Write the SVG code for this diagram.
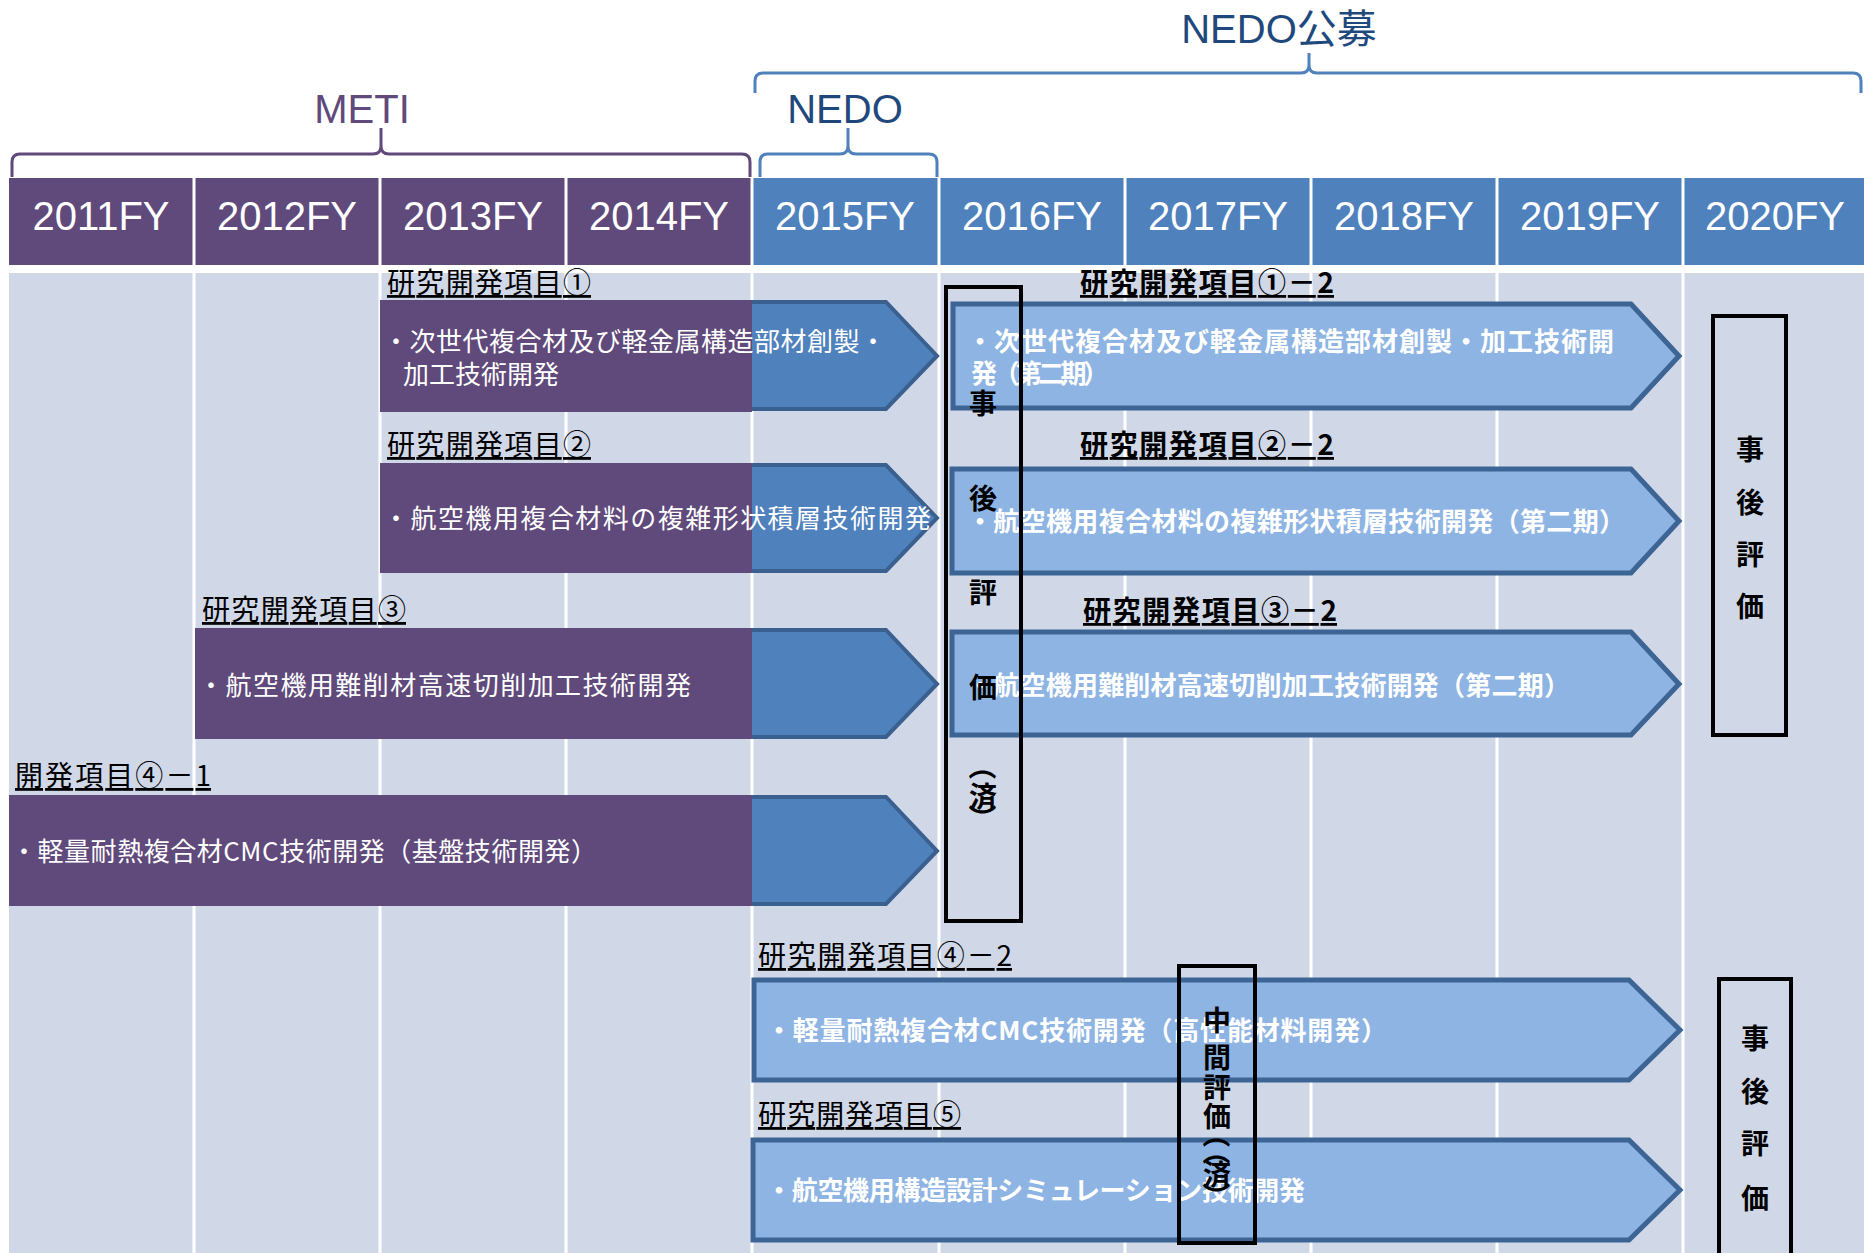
<svg xmlns="http://www.w3.org/2000/svg" width="1864" height="1253" viewBox="0 0 1864 1253">
<style>
.hdr{font-family:"Liberation Sans",sans-serif;font-size:40px;fill:#fff;text-anchor:middle}
.top{font-family:"Liberation Sans","Noto Sans CJK JP",sans-serif;font-size:40px;text-anchor:middle}
.lbl{font-family:"Noto Sans CJK JP",sans-serif;font-size:28px;fill:#000;text-decoration:underline}
.b{font-weight:700}
.bt{font-family:"Noto Sans CJK JP",sans-serif;font-size:26px;fill:#fff}
.ev{font-family:"Noto Sans CJK JP",sans-serif;font-size:28px;font-weight:700;fill:#000;text-anchor:middle;dominant-baseline:central}
.evbox{fill:none;stroke:#000;stroke-width:4}
.arr1{fill:#4F81BD;stroke:#3A6090;stroke-width:4}
.arr2{fill:#8EB4E3;stroke:#3C6494;stroke-width:5}
.meti{fill:#604A7B}
.nedo{fill:#4F81BD}
.sep{stroke:#fff;stroke-width:3}
.brace{fill:none;stroke-width:3;stroke-linejoin:round}
</style>

<g id="background">
<rect x="9" y="273" width="1855" height="980" fill="#D0D8E8"/>
<g class="sep">
<line x1="194" y1="273" x2="194" y2="1253"/><line x1="380" y1="273" x2="380" y2="1253"/>
<line x1="566" y1="273" x2="566" y2="1253"/><line x1="752" y1="273" x2="752" y2="1253"/>
<line x1="939" y1="273" x2="939" y2="1253"/><line x1="1125" y1="273" x2="1125" y2="1253"/>
<line x1="1311" y1="273" x2="1311" y2="1253"/><line x1="1497" y1="273" x2="1497" y2="1253"/>
<line x1="1683" y1="273" x2="1683" y2="1253"/>
</g>
</g>

<g id="header">
<rect class="meti" x="9" y="178" width="743" height="87"/>
<rect class="nedo" x="752" y="178" width="1112" height="87"/>
<g class="sep">
<line x1="194" y1="178" x2="194" y2="265"/><line x1="380" y1="178" x2="380" y2="265"/>
<line x1="566" y1="178" x2="566" y2="265"/><line x1="752" y1="178" x2="752" y2="265"/>
<line x1="939" y1="178" x2="939" y2="265"/><line x1="1125" y1="178" x2="1125" y2="265"/>
<line x1="1311" y1="178" x2="1311" y2="265"/><line x1="1497" y1="178" x2="1497" y2="265"/>
<line x1="1683" y1="178" x2="1683" y2="265"/>
</g>
<text class="hdr" x="101" y="230">2011FY</text>
<text class="hdr" x="287" y="230">2012FY</text>
<text class="hdr" x="473" y="230">2013FY</text>
<text class="hdr" x="659" y="230">2014FY</text>
<text class="hdr" x="845" y="230">2015FY</text>
<text class="hdr" x="1032" y="230">2016FY</text>
<text class="hdr" x="1218" y="230">2017FY</text>
<text class="hdr" x="1404" y="230">2018FY</text>
<text class="hdr" x="1590" y="230">2019FY</text>
<text class="hdr" x="1775" y="230">2020FY</text>
</g>

<g id="braces">
<g id="brace-meti">
<path class="brace" stroke="#604A7B" d="M12 177 L12 162 Q12 154 20 154 L373 154 Q381 154 381 146 L381 128 M381 146 Q381 154 389 154 L742 154 Q750 154 750 162 L750 177"/>
<text class="top" fill="#604A7B" x="362" y="123">METI</text>
</g>
<g id="brace-nedo">
<path class="brace" stroke="#4F81BD" d="M760 177 L760 162 Q760 154 768 154 L840 154 Q848 154 848 146 L848 128 M848 146 Q848 154 856 154 L929 154 Q937 154 937 162 L937 177"/>
<text class="top" fill="#1F497D" x="845" y="123">NEDO</text>
</g>
<g id="brace-nedo-koubo">
<path class="brace" stroke="#4F81BD" d="M755 93 L755 81 Q755 73 763 73 L1301 73 Q1309 73 1309 65 L1309 53 M1309 65 Q1309 73 1317 73 L1853 73 Q1861 73 1861 81 L1861 93"/>
<text class="top" fill="#1F497D" x="1279" y="43">NEDO公募</text>
</g>
</g>

<g id="connectors"></g>

<g id="item1">
<path class="arr1" d="M700 302 L886 302 L937 356 L886 409 L700 409 Z"/>
<rect class="meti" x="380" y="300" width="372" height="112"/>
<text class="lbl" x="387" y="293" textLength="204">研究開発項目①</text>
<text class="bt" x="383" y="351" textLength="503">・次世代複合材及び軽金属構造部材創製・</text>
<text class="bt" x="403" y="384">加工技術開発</text>
</g>

<g id="item2">
<path class="arr1" d="M700 465 L886 465 L937 518 L886 571 L700 571 Z"/>
<rect class="meti" x="380" y="463" width="372" height="110"/>
<text class="lbl" x="387" y="455" textLength="204">研究開発項目②</text>
<text class="bt" x="383" y="528" textLength="548">・航空機用複合材料の複雑形状積層技術開発</text>
</g>

<g id="item3">
<path class="arr1" d="M700 630 L886 630 L937 684 L886 737 L700 737 Z"/>
<rect class="meti" x="195" y="628" width="557" height="111"/>
<text class="lbl" x="202" y="620" textLength="204">研究開発項目③</text>
<text class="bt" x="198" y="695" textLength="493">・航空機用難削材高速切削加工技術開発</text>
</g>

<g id="item4-1">
<path class="arr1" d="M700 797 L886 797 L937 851 L886 904 L700 904 Z"/>
<rect class="meti" x="9" y="795" width="743" height="111"/>
<text class="lbl" x="15" y="786" textLength="196">開発項目④－1</text>
<text class="bt" x="11" y="861" textLength="586">・軽量耐熱複合材CMC技術開発（基盤技術開発）</text>
</g>

<g id="item1-2">
<path class="arr2" d="M953 304 L1631 304 L1679 356 L1631 408 L953 408 Z"/>
<text class="lbl b" x="1080" y="293" textLength="254">研究開発項目①－2</text>
<text class="bt b" x="967" y="351" textLength="647">・次世代複合材及び軽金属構造部材創製・加工技術開</text>
<text class="bt b" x="971" y="383" textLength="138">発（第二期）</text>
</g>

<g id="item2-2">
<path class="arr2" d="M952 469 L1631 469 L1679 521 L1631 573 L952 573 Z"/>
<text class="lbl b" x="1080" y="455" textLength="254">研究開発項目②－2</text>
<text class="bt b" x="967" y="531" textLength="658">・航空機用複合材料の複雑形状積層技術開発（第二期）</text>
</g>

<g id="item3-2">
<path class="arr2" d="M952 632 L1631 632 L1679 684 L1631 735 L952 735 Z"/>
<text class="lbl b" x="1083" y="621" textLength="254">研究開発項目③－2</text>
<text class="bt b" x="967" y="695" textLength="603">・航空機用難削材高速切削加工技術開発（第二期）</text>
</g>

<g id="item4-2">
<path class="arr2" d="M754 980 L1629 980 L1680 1030 L1629 1080 L754 1080 Z"/>
<text class="lbl" x="758" y="966" textLength="254">研究開発項目④－2</text>
<text class="bt b" x="766" y="1040" textLength="621">・軽量耐熱複合材CMC技術開発（高性能材料開発）</text>
</g>

<g id="item5">
<path class="arr2" d="M753 1140 L1629 1140 L1680 1190 L1629 1240 L753 1240 Z"/>
<text class="lbl" x="758" y="1125" textLength="203">研究開発項目⑤</text>
<text class="bt b" x="766" y="1200" textLength="539">・航空機用構造設計シミュレーション技術開発</text>
</g>

<g id="eval-post-1">
<rect class="evbox" x="946" y="287" width="75" height="634"/>
<text class="ev" x="983" y="402">事</text>
<text class="ev" x="983" y="497">後</text>
<text class="ev" x="983" y="591">評</text>
<text class="ev" x="983" y="686">価</text>
<text class="ev" x="983" y="766" transform="rotate(90 983 766)">（</text>
<text class="ev" x="983" y="795">済</text>
<text class="ev" x="983" y="818" transform="rotate(90 983 818)">）</text>
</g>

<g id="eval-post-2">
<rect class="evbox" x="1713" y="316" width="73" height="419"/>
<text class="ev" x="1750" y="448">事</text>
<text class="ev" x="1750" y="501">後</text>
<text class="ev" x="1750" y="553">評</text>
<text class="ev" x="1750" y="605">価</text>
</g>

<g id="eval-mid">
<rect class="evbox" x="1179" y="966" width="76" height="277"/>
<text class="ev" x="1217" y="1019">中</text>
<text class="ev" x="1217" y="1056">間</text>
<text class="ev" x="1217" y="1086">評</text>
<text class="ev" x="1217" y="1115">価</text>
<text class="ev" x="1217" y="1134" transform="rotate(90 1217 1134)">（</text>
<text class="ev" x="1217" y="1151" transform="rotate(90 1217 1151)">（</text>
<text class="ev" x="1217" y="1173">済</text>
<text class="ev" x="1217" y="1196" transform="rotate(90 1217 1196)">）</text>
</g>

<g id="eval-post-3">
<rect class="evbox" x="1719" y="979" width="72" height="280"/>
<text class="ev" x="1755" y="1037">事</text>
<text class="ev" x="1755" y="1090">後</text>
<text class="ev" x="1755" y="1142">評</text>
<text class="ev" x="1755" y="1197">価</text>
</g>
</svg>
